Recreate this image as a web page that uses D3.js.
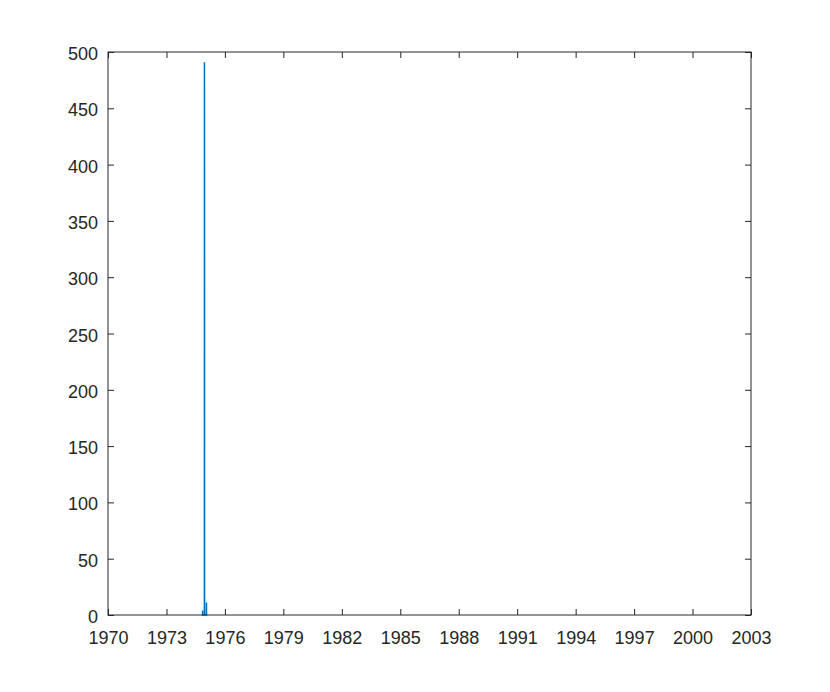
<!DOCTYPE html>
<html>
<head>
<meta charset="utf-8">
<script src="https://cdn.jsdelivr.net/npm/d3@7"></script>
<style>
  body { margin: 0; background: #fff; }
  svg { display: block; }
  .tick text { font-family: "Liberation Sans", Arial, sans-serif; font-size: 18px; fill: #262626; }
</style>
</head>
<body>
<svg width="830" height="692"></svg>
<script>
// series: dates and values around the single burst
var dates = ["1974-10-25", "1974-11-09", "1974-11-10", "1974-11-11", "1974-12-13",
             "1974-12-14", "1974-12-15", "1974-12-16", "1975-01-20", "1975-01-21",
             "1975-01-22", "1975-02-05"];
var values = [0, 0, 4, 0, 0, 491, 410, 0, 0, 11, 0, 0];

var yearTicks = [1970, 1973, 1976, 1979, 1982, 1985, 1988, 1991, 1994, 1997, 2000, 2003];
var yTicks = [0, 50, 100, 150, 200, 250, 300, 350, 400, 450, 500];

var svg = d3.select("svg"),
    margin = {top: 52, right: 79, bottom: 77, left: 108},
    width = +svg.attr("width") - margin.left - margin.right,
    height = +svg.attr("height") - margin.top - margin.bottom;

var parse = d3.timeParse("%Y-%m-%d");
var data = dates.map(function(d, i) { return {date: parse(d), value: values[i]}; });

var x = d3.scaleTime()
    .domain([new Date(1970, 0, 1), new Date(2003, 0, 1)])
    .range([0, width]);
var y = d3.scaleLinear().domain([0, 500]).range([height, 0]);

var g = svg.append("g").attr("transform", "translate(" + margin.left + "," + margin.top + ")");

var line = d3.line()
    .x(function(d) { return x(d.date); })
    .y(function(d) { return y(d.value); });

g.append("path")
    .datum(data)
    .attr("fill", "none")
    .attr("stroke", "#0072BD")
    .attr("stroke-width", 1.5)
    .attr("d", line);

var tickDates = yearTicks.map(function(t) { return new Date(t, 0, 1); });

function styleAxis(sel) {
  sel.select(".domain").remove();
  sel.selectAll(".tick line").attr("stroke", "#262626");
}

g.append("g")
    .attr("transform", "translate(0," + height + ")")
    .call(d3.axisBottom(x).tickValues(tickDates).tickFormat(d3.timeFormat("%Y")).tickSize(-6).tickPadding(16))
    .call(styleAxis);
g.append("g")
    .call(d3.axisTop(x).tickValues(tickDates).tickFormat("").tickSize(-6))
    .call(styleAxis);
g.append("g")
    .call(d3.axisLeft(y).tickValues(yTicks).tickSize(-6).tickPadding(10))
    .call(styleAxis)
    .selectAll(".tick text").attr("dy", "0.42em");
g.append("g")
    .attr("transform", "translate(" + width + ",0)")
    .call(d3.axisRight(y).tickValues(yTicks).tickFormat("").tickSize(-6))
    .call(styleAxis);

g.append("rect")
    .attr("width", width)
    .attr("height", height)
    .attr("fill", "none")
    .attr("stroke", "#262626")
    .attr("stroke-width", 1);
</script>
</body>
</html>
